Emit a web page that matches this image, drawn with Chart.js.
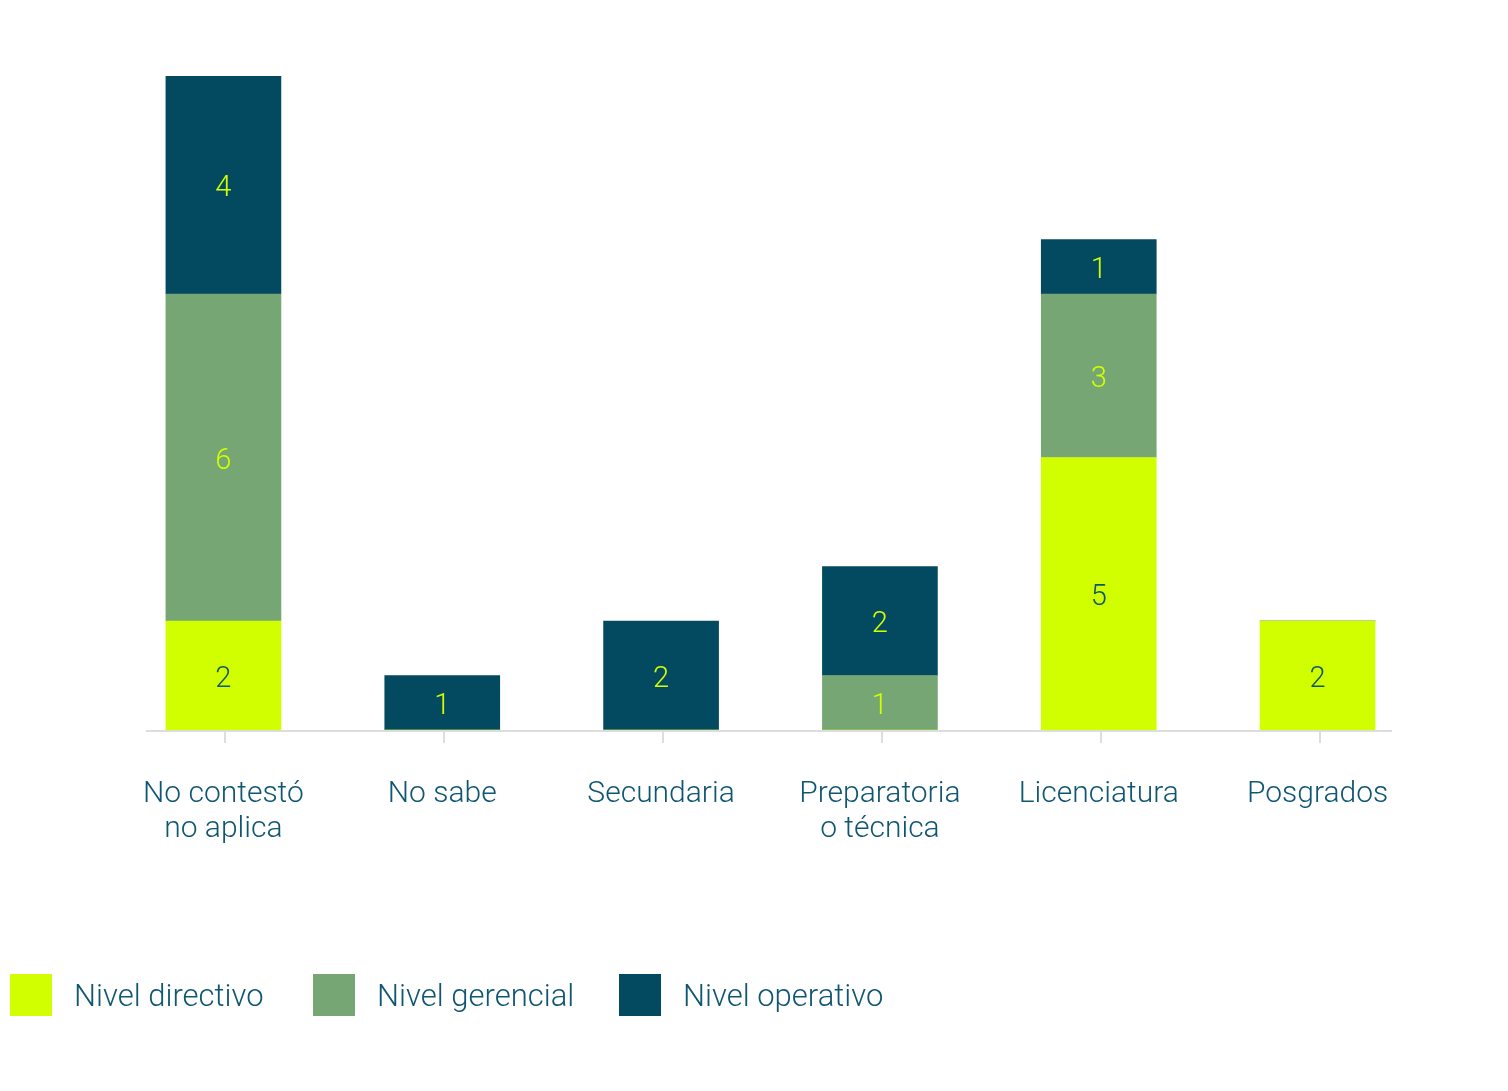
<!DOCTYPE html>
<html lang="es">
<head>
<meta charset="utf-8">
<title>Nivel por escolaridad</title>
<script src="https://cdn.jsdelivr.net/npm/chart.js@4.4.1/dist/chart.umd.min.js"></script>
<style>
    html, body { margin: 0; padding: 0; background: #fff; }
    #wrap { position: relative; width: 1508px; height: 1091px; }
    #legend { position: absolute; left: 0; top: 974px; height: 42px; width: 1508px; }
    .item { position: absolute; top: 0; height: 42px; display: flex; align-items: center; }
    .box { width: 42px; height: 42px; margin-right: 22px; }
    .txt { font-family: Roboto, sans-serif; font-weight: 300; font-size: 31px; color: #0f5671; }
</style>
</head>
<body>
<div id="wrap">
    <canvas id="chart" width="1508" height="1091"></canvas>
    <div id="legend"></div>
</div>
<script>
// ========= DATA =========
const categories = [
    ['No contestó', 'no aplica'],
    'No sabe',
    'Secundaria',
    ['Preparatoria', 'o técnica'],
    'Licenciatura',
    'Posgrados'
];
const seriesNames = ['Nivel directivo', 'Nivel gerencial', 'Nivel operativo'];
const directivo = [2, 0, 0, 0, 5, 2];
const gerencial = [6, 0, 0, 1, 3, 0];
const operativo = [4, 1, 2, 2, 1, 0];

const colors = ['#d2ff00', '#76a673', '#034a61'];
const labelColors = ['#0f5671', '#d2ff00', '#d2ff00'];
const textColor = '#0f5671';
const fontFamily = 'Roboto, sans-serif';

// ========= PLUGINS =========
// value written in the middle of each stacked segment
const segmentLabels = {
    id: 'segmentLabels',
    afterDatasetsDraw(chart) {
        const ctx = chart.ctx;
        ctx.save();
        ctx.font = `300 29px ${fontFamily}`;
        ctx.textAlign = 'center';
        ctx.textBaseline = 'middle';
        chart.data.datasets.forEach((ds, i) => {
            const meta = chart.getDatasetMeta(i);
            meta.data.forEach((bar, j) => {
                const v = ds.data[j];
                if (!v) return;
                ctx.fillStyle = labelColors[i];
                ctx.fillText(String(v), bar.x, (bar.y + bar.base) / 2 + 4);
            });
        });
        ctx.restore();
    }
};

// thin baseline with small tick marks under each category
const baseline = {
    id: 'baseline',
    afterDatasetsDraw(chart) {
        const { ctx, chartArea } = chart;
        const x = chart.scales.x;
        const y = chartArea.bottom + 1;
        ctx.save();
        ctx.strokeStyle = '#dddddd';
        ctx.lineWidth = 2;
        ctx.beginPath();
        ctx.moveTo(chartArea.left + 32, y);
        ctx.lineTo(chartArea.right - 35, y);
        categories.forEach((_, i) => {
            const px = Math.round(x.getPixelForValue(i)) + 2;
            ctx.moveTo(px, y);
            ctx.lineTo(px, y + 12);
        });
        ctx.stroke();
        ctx.restore();
    }
};

// ========= CHART =========
const series = [directivo, gerencial, operativo];

const chart = new Chart(document.getElementById('chart'), {
    type: 'bar',
    data: {
        labels: categories,
        datasets: series.map((data, i) => ({
            label: seriesNames[i],
            data,
            backgroundColor: colors[i],
            borderWidth: 0,
            barThickness: 115
        }))
    },
    options: {
        responsive: false,
        animation: false,
        layout: {
            padding: { left: 114, right: 81, top: 76, bottom: 161 }
        },
        scales: {
            x: {
                stacked: true,
                grid: { display: false },
                border: { display: false },
                ticks: {
                    color: textColor,
                    padding: 39,
                    maxRotation: 0,
                    autoSkip: false,
                    font: { family: fontFamily, size: 30, weight: 300, lineHeight: 1.17 }
                },
                afterFit(scale) { scale.height = 200; }
            },
            y: {
                stacked: true,
                display: false,
                min: 0,
                max: 12
            }
        },
        plugins: {
            legend: { display: false },
            tooltip: { enabled: false }
        }
    },
    plugins: [segmentLabels, baseline]
});

// ========= LEGEND =========
const legendLeft = [10, 313, 619];
const legend = document.getElementById('legend');
seriesNames.forEach((name, i) => {
    const item = document.createElement('div');
    item.className = 'item';
    item.style.left = legendLeft[i] + 'px';
    item.innerHTML = `<div class="box" style="background:${colors[i]}"></div><span class="txt">${name}</span>`;
    legend.appendChild(item);
});
</script>
</body>
</html>
